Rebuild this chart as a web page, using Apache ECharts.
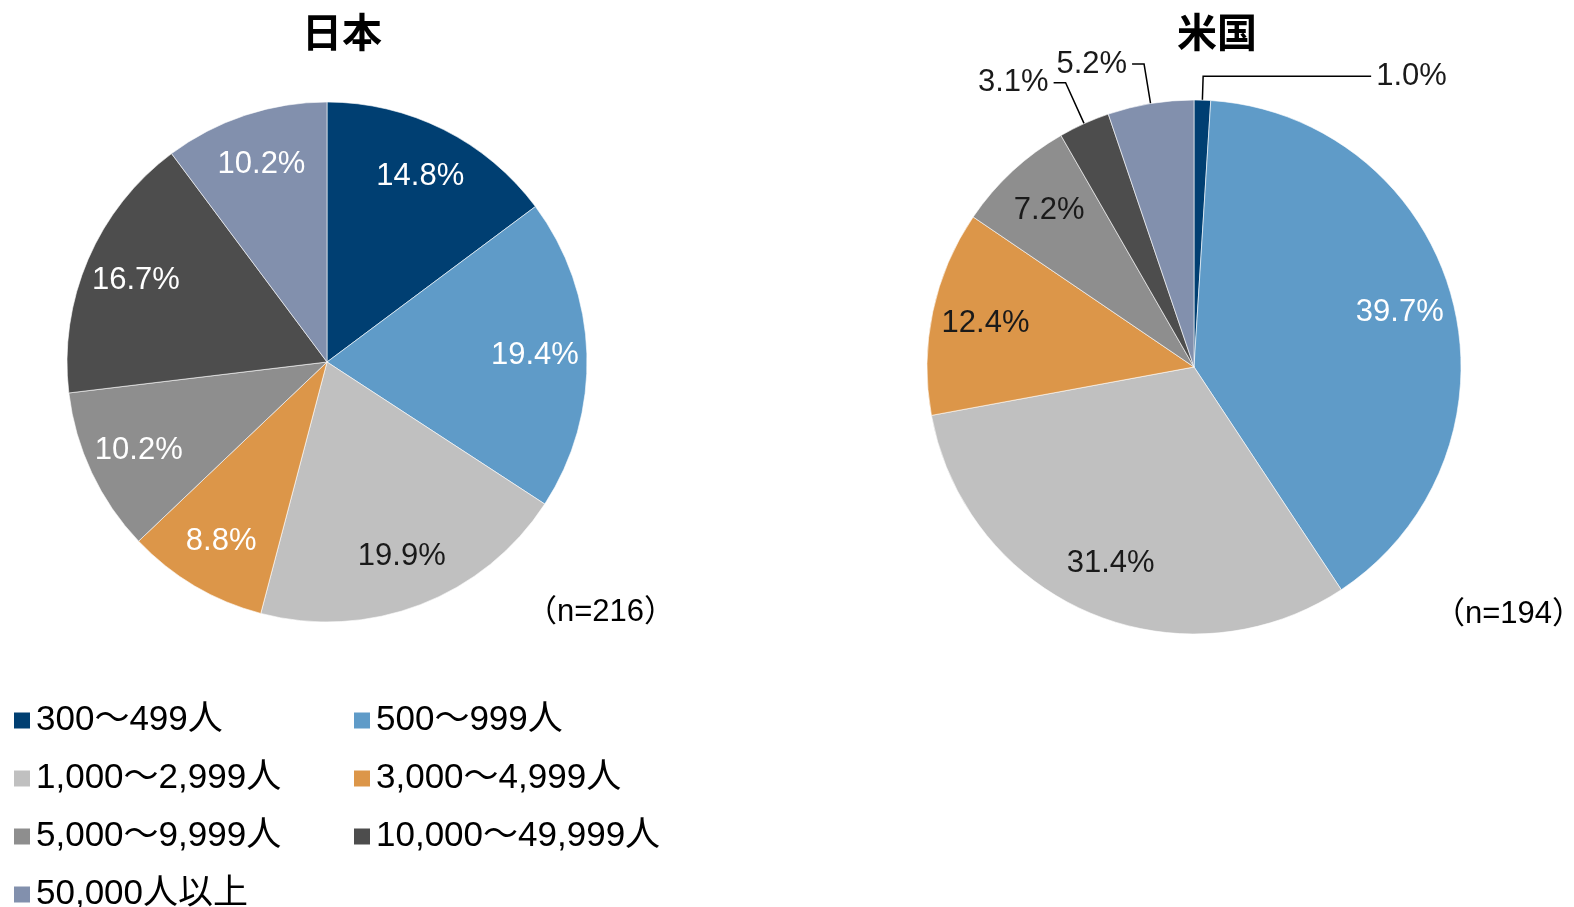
<!DOCTYPE html>
<html>
<head>
<meta charset="utf-8">
<script src="https://cdn.jsdelivr.net/npm/echarts@6/dist/echarts.min.js"></script>
<style>
  html, body { margin: 0; padding: 0; background: #fff; }
  #chart { width: 1574px; height: 907px; }
</style>
</head>
<body>
<div id="chart"></div>
<script>
// 従業員規模の区分
var categories = ['300～499人', '500～999人', '1,000～2,999人', '3,000～4,999人',
                  '5,000～9,999人', '10,000～49,999人', '50,000人以上'];
// 割合(%)
var japanValues = [14.8, 19.4, 19.9, 8.8, 10.2, 16.7, 10.2];
var usValues = [1.0, 39.7, 31.4, 12.4, 7.2, 3.1, 5.2];
var titles = ['日本', '米国'];
var sampleSizes = ['（n=216）', '（n=194）'];

var colors = ['#003f72', '#5f9bc8', '#c0c0c0', '#dc9649', '#8e8e8e', '#4d4d4d', '#8290ad'];
var FONT = '"Liberation Sans", Arial, "Noto Sans CJK JP", sans-serif';

// 内側ラベルの文字色 (null = 外側ラベル)
var japanLabelColor = ['#fff', '#fff', '#1a1a1a', '#fff', '#fff', '#fff', '#fff'];
var usLabelColor = [null, '#fff', '#1a1a1a', '#1a1a1a', '#1a1a1a', null, null];
// 外側ラベルの引き出し線の長さ
var usOutside = { 0: [24, 168], 5: [45, 12], 6: [40, 12] };

function pct(p) { return p.value.toFixed(1) + '%'; }

function mainData(values, labelColor, outside) {
  return values.map(function (v, i) {
    var item = { name: categories[i], value: v, itemStyle: { color: colors[i] } };
    if (labelColor[i] === null && outside[i]) {
      item.label = { show: true, position: 'outside', color: '#1a1a1a' };
      item.labelLine = { show: true, length: outside[i][0], length2: outside[i][1],
                         lineStyle: { color: '#000', width: 1.5 } };
    }
    return item;
  });
}

function ringData(values, labelColor) {
  return values.map(function (v, i) {
    return {
      name: categories[i], value: v,
      label: { show: labelColor[i] !== null, color: labelColor[i] || '#000' }
    };
  });
}

function pieSeries(center, r, r0, values, labelColor, outside) {
  return [
    {
      type: 'pie',
      center: center,
      radius: [0, r],
      startAngle: 90,
      avoidLabelOverlap: false,
      animation: false,
      itemStyle: { borderColor: '#fff', borderWidth: 0.6 },
      label: { show: false, fontFamily: FONT, fontSize: 31, formatter: pct },
      labelLine: { show: false },
      emphasis: { disabled: true },
      data: mainData(values, labelColor, outside)
    },
    {
      // ラベル位置用の透明リング
      type: 'pie',
      center: center,
      radius: [r0, r],
      startAngle: 90,
      silent: true,
      animation: false,
      avoidLabelOverlap: false,
      itemStyle: { color: 'rgba(0,0,0,0)' },
      label: { position: 'inside', fontFamily: FONT, fontSize: 31, formatter: pct },
      labelLine: { show: false },
      emphasis: { disabled: true },
      data: ringData(values, labelColor)
    }
  ];
}

var chart = echarts.init(document.getElementById('chart'));

var legendBase = {
  orient: 'vertical',
  top: 703,
  height: 320,
  padding: 0,
  itemWidth: 18,
  itemHeight: 18,
  itemGap: 23,
  icon: 'rect',
  selectedMode: false,
  textStyle: { fontFamily: FONT, fontSize: 35, color: '#000', lineHeight: 34 }
};

var option = {
  backgroundColor: '#fff',
  legend: [
    Object.assign({}, legendBase, { left: 12, data: [categories[0], categories[2], categories[4], categories[6]] }),
    Object.assign({}, legendBase, { left: 352, data: [categories[1], categories[3], categories[5]] })
  ],
  graphic: [
    { type: 'text', x: 342, y: 32, style: { text: titles[0], font: 'bold 40px "Noto Sans CJK JP"', fill: '#000', align: 'center', verticalAlign: 'middle' } },
    { type: 'text', x: 1217, y: 32, style: { text: titles[1], font: 'bold 40px "Noto Sans CJK JP"', fill: '#000', align: 'center', verticalAlign: 'middle' } },
    { type: 'text', x: 675, y: 612, style: { text: sampleSizes[0], font: '31px ' + FONT, fill: '#000', align: 'right', verticalAlign: 'middle' } },
    { type: 'text', x: 1583, y: 614, style: { text: sampleSizes[1], font: '31px ' + FONT, fill: '#000', align: 'right', verticalAlign: 'middle' } }
  ],
  series: [].concat(
    pieSeries([327, 362], 260, 150, japanValues, japanLabelColor, {}),
    pieSeries([1194, 367], 267, 153, usValues, usLabelColor, usOutside)
  )
};

chart.setOption(option);
</script>
</body>
</html>
